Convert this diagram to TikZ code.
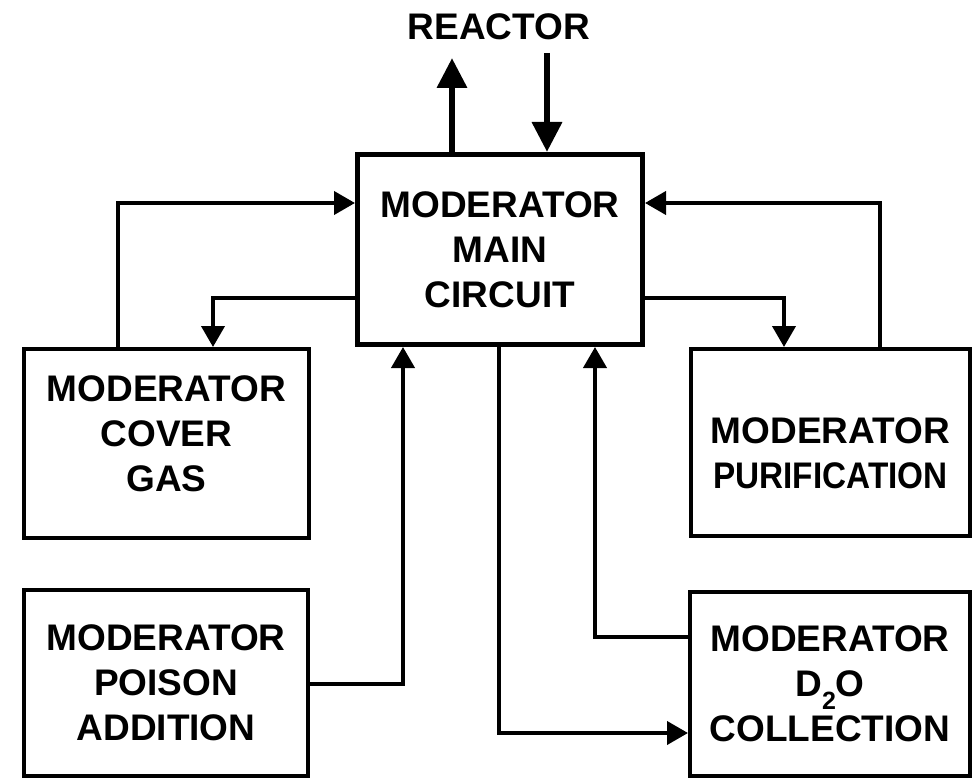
\documentclass[tikz,border=0pt]{standalone}
\usepackage{fontspec}
\setmainfont{Liberation Sans}
\usetikzlibrary{arrows.meta}
\begin{document}
\begin{tikzpicture}[x=1pt,y=-1pt,
  box/.style={draw, line width=4pt, align=center, inner sep=0pt,
    font=\bfseries\fontsize{37}{45}\selectfont},
  conn/.style={line width=4pt, -{Triangle[length=21pt,width=23pt]}},
  bigconn/.style={line width=6.5pt, -{Triangle[length=30pt,width=29pt]}},
  lbl/.style={font=\bfseries\fontsize{37}{45}\selectfont, inner sep=0pt}]
\useasboundingbox (0,0) rectangle (974,781);
% boxes
\node[box, line width=5pt, minimum width=285pt, minimum height=190pt] (main) at (500,249.5) {MODERATOR\\MAIN\\CIRCUIT};
\node[box, minimum width=285pt, minimum height=189pt] (cover) at (166.5,443.5) {MODERATOR\\COVER\\GAS\\[-25pt]\mbox{}};
\node[box, minimum width=284pt, minimum height=186pt] (poison) at (166,683) {MODERATOR\\POISON\\ADDITION};
\node[box, minimum width=279pt, minimum height=187pt] (purif) at (830.5,442.5) {\mbox{}\\[2pt]MODERATOR\\\scalebox{0.9}[1]{PURIFICATION}};
\node[box, minimum width=280pt, minimum height=184pt] (d2o) at (830,684) {MODERATOR\\D\raisebox{-13pt}{\fontsize{25}{25}\selectfont 2}O\\COLLECTION};
\node[lbl] (reactor) at (499,27) {REACTOR};
% routing coordinates
\coordinate (aL) at (118,203);
\coordinate (bL) at (213,298);
\coordinate (aR) at (880,203);
\coordinate (bR) at (784,298);
\coordinate (cP) at (403,684);
\coordinate (cD) at (499,733);
\coordinate (cE) at (595,637);
\coordinate (rT) at (452,58);
\coordinate (rD) at (547,53);
% connectors
\draw[conn] (cover.north -| aL) |- (main.west |- aL);
\draw[conn] (main.west |- bL) -| (cover.north -| bL);
\draw[conn] (purif.north -| aR) |- (main.east |- aR);
\draw[conn] (main.east |- bR) -| (purif.north -| bR);
\draw[conn] (poison.east |- cP) -| (main.south -| cP);
\draw[conn] (main.south -| cD) |- (d2o.west |- cD);
\draw[conn] (d2o.west |- cE) -| (main.south -| cE);
\draw[bigconn] (main.north -| rT) -- (rT);
\draw[bigconn] (rD) -- (main.north -| rD);
\end{tikzpicture}
\end{document}
